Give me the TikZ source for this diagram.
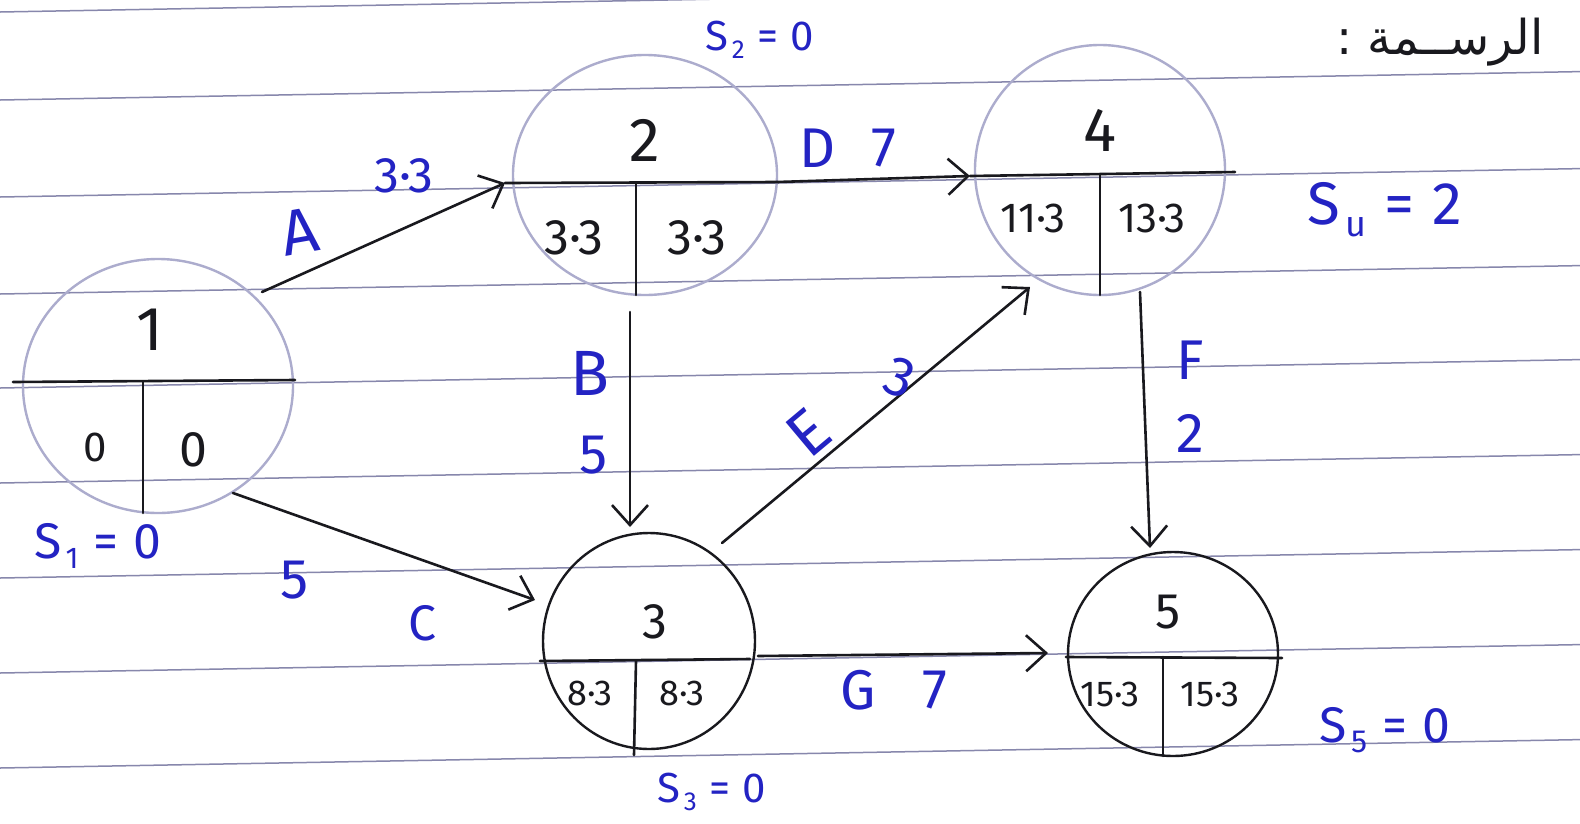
\documentclass[tikz,border=0pt]{standalone}
\usepackage{fontspec}
\setmainfont{Fira Sans}
\newfontfamily\arabicfont[Script=Arabic]{DejaVu Sans}
\TeXXeTstate=1
\usetikzlibrary{shapes.geometric,arrows.meta}
\definecolor{ink}{RGB}{25,25,30}
\definecolor{pen}{RGB}{35,35,195}
\definecolor{faint}{RGB}{172,172,205}
\definecolor{rulec}{RGB}{135,135,172}
\newcommand{\slk}[3]{S\kern0.08em\raisebox{-0.2em}{\fontsize{#3}{#3}\selectfont #1}\kern0.3em=\kern0.3em#2}
\begin{document}
\begin{tikzpicture}[x=1pt,y=-1pt,
  rulel/.style={draw=rulec,line width=1.5pt},
  circ/.style={ellipse,draw,inner sep=0pt,line width=2.4pt},
  faintc/.style={circ,draw=faint},
  darkc/.style={circ,draw=ink},
  inkl/.style={draw=ink,line width=2.6pt,line cap=round},
  arr/.style={inkl,-{Straight Barb[length=20pt,width=36pt]}},
  num/.style={text=ink,inner sep=0pt},
  lab/.style={text=pen,inner sep=0pt},
  fA/.style={font=\fontsize{62}{62}\selectfont},
  fB/.style={font=\fontsize{50}{50}\selectfont},
  fC/.style={font=\fontsize{42}{42}\selectfont},
  fD/.style={font=\fontsize{36}{36}\selectfont},
  fL/.style={font=\fontsize{64}{64}\selectfont},
  fM/.style={font=\fontsize{56}{56}\selectfont},
  fS/.style={font=\fontsize{50}{50}\selectfont}]
\useasboundingbox (0,0) rectangle (1580,823);
\fill[white] (0,0) rectangle (1580,823);
% ruled paper
\foreach \yy in {12,100,197,294,388,483,578,673,768}
  \draw[rulel] (0,\yy) -- (1580,\yy-28.4);

% node circles
\node[faintc,minimum width=270pt,minimum height=254pt] (n1) at (158,386) {};
\node[faintc,minimum width=264pt,minimum height=240pt] (n2) at (645,175) {};
\node[faintc,minimum width=250pt,minimum height=250pt] (n4) at (1100,170) {};
\node[darkc,minimum width=212pt,minimum height=216pt] (n3) at (649,641) {};
\node[darkc,minimum width=210pt,minimum height=204pt] (n5) at (1173,654) {};

% ports
\coordinate (n1h1) at (13,382);  \coordinate (n1h2) at (295,380);
\coordinate (n1v1) at (143,382); \coordinate (n1v2) at (143,513);
\coordinate (n2h1) at (505,183); \coordinate (n2h2) at (777,182);
\coordinate (n2v1) at (636,183); \coordinate (n2v2) at (636,295);
\coordinate (n4h1) at (970,176); \coordinate (n4h2) at (1235,172);
\coordinate (n4v1) at (1100,175); \coordinate (n4v2) at (1100,295);
\coordinate (n3h1) at (540,661); \coordinate (n3h2) at (750,659);
\coordinate (n3v1) at (636,661); \coordinate (n3v2) at (634,755);
\coordinate (n5h1) at (1066,657); \coordinate (n5h2) at (1282,658);
\coordinate (n5v1) at (1163,657); \coordinate (n5v2) at (1163,756);
\coordinate (n1o1) at (262,292); \coordinate (n1o2) at (233,493);
\coordinate (n2o) at (630,312);  \coordinate (n3i) at (630,527);
\coordinate (n3iC) at (535,600); \coordinate (n3o1) at (722,543);
\coordinate (n3o2) at (758,656); \coordinate (n4i) at (1030,287);
\coordinate (n4o) at (1140,292); \coordinate (n5i) at (1150,548);
\coordinate (n5iG) at (1048,653);

% node partitions
\draw[inkl] (n1h1) -- (n1h2); \draw[inkl] (n1v1) -- (n1v2);
\draw[inkl] (n2h1) -- (n2h2); \draw[inkl] (n2v1) -- (n2v2);
\draw[inkl] (n4h1) -- (n4h2); \draw[inkl] (n4v1) -- (n4v2);
\draw[inkl] (n3h1) -- (n3h2); \draw[inkl] (n3v1) -- (n3v2);
\draw[inkl] (n5h1) -- (n5h2); \draw[inkl] (n5v1) -- (n5v2);

% connectors
\draw[arr] (n1o1) -- (n2h1);
\draw[arr] (n2h2) -- (n4h1);
\draw[arr] (n2o) -- (n3i);
\draw[arr] (n1o2) -- (n3iC);
\draw[arr] (n3o1) -- (n4i);
\draw[arr] (n4o) -- (n5i);
\draw[arr] (n3o2) -- (n5iG);

% node texts
\node[num,fA] (t1) at (150,330) {1};
\node[num,fC] (t1a) at (95,447) {0};
\node[num,fB] (t1b) at (193,450) {0};
\node[num,fA] (t2) at (645,140) {2};
\node[num,fB] (t2a) at (574,238) {3·3};
\node[num,fB] (t2b) at (697,238) {3·3};
\node[num,fA] (t4) at (1100,130) {4};
\node[num,fC] (t4a) at (1033,218) {11·3};
\node[num,fC] (t4b) at (1152,218) {13·3};
\node[num,fB] (t3) at (655,622) {3};
\node[num,fD] (t3a) at (590,693) {8·3};
\node[num,fD] (t3b) at (682,693) {8·3};
\node[num,fB] (t5) at (1168,612) {5};
\node[num,fD] (t5a) at (1110,694) {15·3};
\node[num,fD] (t5b) at (1210,694) {15·3};

% activity labels
\node[lab,fL,rotate=10] (lA) at (300,232) {A};
\node[lab,fB] (lA2) at (404,176) {3·3};
\node[lab,fM] (lD) at (818,148) {D};
\node[lab,fM] (lD2) at (884,148) {7};
\node[lab,fL] (lB) at (590,373) {B};
\node[lab,fM] (lB2) at (594,455) {5};
\node[lab,fL,rotate=40] (lE) at (808,433) {E};
\node[lab,fM,rotate=-20] (lE2) at (900,378) {3};
\node[lab,fM] (lF) at (1190,360) {F};
\node[lab,fM] (lF2) at (1190,433) {2};
\node[lab,fM] (lC2) at (295,580) {5};
\node[lab,fB] (lC) at (422,623) {C};
\node[lab,fM] (lG) at (858,690) {G};
\node[lab,fM] (lG2) at (935,690) {7};

% slacks
\node[lab,fS] (s1) at (98,546) {\slk{1}{0}{30}};
\node[lab,fC] (s2) at (760,40) {\slk{2}{0}{26}};
\node[lab,font=\fontsize{60}{60}\selectfont] (s4) at (1385,210) {\slk{u}{2}{36}};
\node[lab,fC] (s3) at (712,792) {\slk{3}{0}{26}};
\node[lab,fS] (s5) at (1385,730) {\slk{5}{0}{32}};

% heading
\node[num,font=\arabicfont\fontsize{48}{48}\selectfont] (hd) at (1440,42) {\beginR الرســمة :\endR};
\end{tikzpicture}
\end{document}
